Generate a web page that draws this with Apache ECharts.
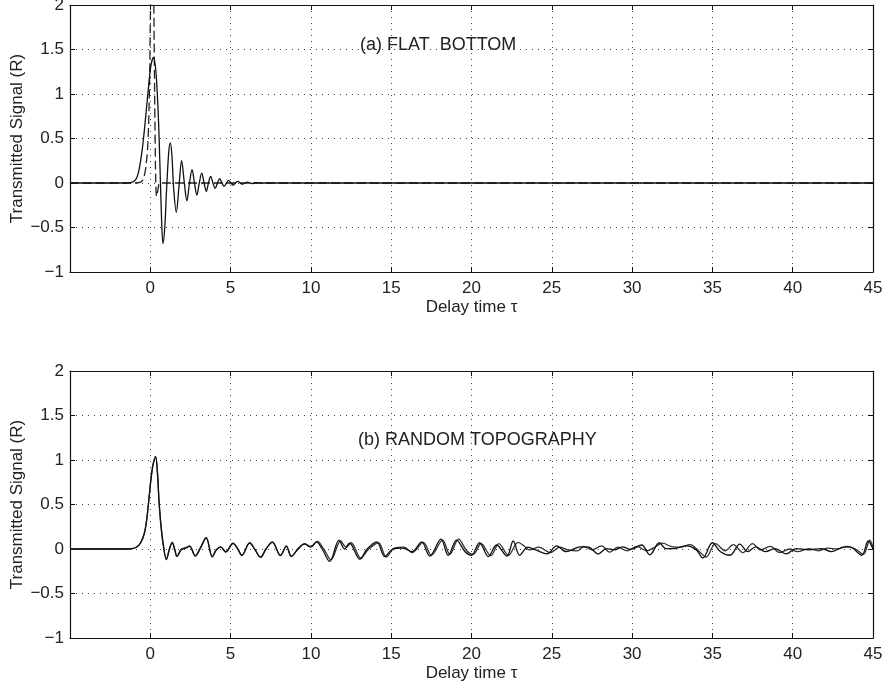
<!DOCTYPE html>
<html>
<head>
<meta charset="utf-8">
<script src="https://cdn.jsdelivr.net/npm/echarts@6/dist/echarts.min.js"></script>
<style>
  html, body { margin: 0; padding: 0; background: #fff; }
  #chart { width: 892px; height: 690px; }
</style>
</head>
<body>
<div id="chart"></div>
<script>
// x ticks and y ticks
const xTicks = [-5, 0, 5, 10, 15, 20, 25, 30, 35, 40, 45]
const yTicks = [-1, -0.5, 0, 0.5, 1, 1.5, 2]

// (a) flat bottom: solid and dashed traces, [delay, signal]
const flatSolid = [
  [-5, 0], [-1.5, 0], [-1.2, 0.005], [-0.9, 0.04], [-0.7, 0.15], [-0.5, 0.38], [-0.3, 0.72],
  [-0.1, 1.1], [0.05, 1.33], [0.2, 1.41], [0.35, 1.25], [0.5, 0.75], [0.6, 0.2], [0.7, -0.4],
  [0.79, -0.68], [0.9, -0.5], [1.02, -0.05], [1.15, 0.35], [1.25, 0.45], [1.35, 0.3], [1.45, -0.05],
  [1.62, -0.33], [1.78, -0.05], [1.95, 0.25], [2.12, 0], [2.28, -0.2], [2.44, 0], [2.6, 0.15],
  [2.75, 0], [2.9, -0.135], [3.05, 0], [3.2, 0.11], [3.35, 0], [3.49, -0.095], [3.62, 0],
  [3.76, 0.075], [3.9, 0], [4.04, -0.06], [4.18, 0], [4.32, 0.048], [4.46, 0], [4.6, -0.038],
  [4.74, 0], [4.88, 0.03], [5.02, 0], [5.16, -0.024], [5.3, 0], [5.45, 0.018], [5.6, 0],
  [5.75, -0.013], [5.9, 0], [6.05, 0.009], [6.2, 0], [6.35, -0.006], [6.5, 0], [6.7, 0.003],
  [7, 0], [45, 0]
]
const flatDashed = [
  [-5, 0], [-1, 0], [-0.6, 0.01], [-0.45, 0.04], [-0.3, 0.15], [-0.15, 0.45], [-0.05, 1.1],
  [0.0, 1.8], [0.05, 2.3], [0.12, 2.5], [0.2, 2.2], [0.25, 1.4], [0.3, 0.5], [0.35, -0.05],
  [0.4, -0.15], [0.5, -0.05], [0.6, 0], [45, 0]
]

// (b) random topography: two nearly overlapping traces
const randA = [
  [-5, 0], [-2, 0], [-1.2, 0.003], [-0.87, 0.02], [-0.6, 0.07], [-0.36, 0.18], [-0.2, 0.36],
  [-0.09, 0.55], [0.12, 0.89], [0.33, 1.04], [0.45, 0.85], [0.54, 0.55], [0.65, 0.3], [0.79, 0.08],
  [1.0, -0.12], [1.2, 0.0], [1.37, 0.075], [1.52, 0.0], [1.66, -0.085], [1.93, -0.01], [2.2, 0.01],
  [2.45, 0.03], [2.8, -0.08], [3.1, 0.0], [3.48, 0.13], [3.86, -0.085], [4.1, -0.01], [4.38, 0.025],
  [4.7, -0.03], [5.15, 0.065], [5.45, 0], [5.7, -0.07], [6.19, 0.07], [6.5, 0.0], [6.87, -0.09],
  [7.2, 0], [7.6, 0.08], [8.1, -0.07], [8.47, 0.03], [8.78, -0.085], [9.2, 0.0], [9.6, 0.055],
  [10.0, 0.02], [10.34, 0.08], [10.7, 0.0], [11.17, -0.14], [11.75, 0.1], [12.1, 0.0], [12.4, 0.065],
  [13.05, -0.115], [13.5, 0.0], [14.1, 0.08], [14.6, -0.085], [15.1, 0.0], [15.7, 0.01], [16.3, -0.03],
  [16.9, 0.08], [17.4, -0.08], [18.1, 0.11], [18.55, -0.07], [19.07, 0.1], [19.6, -0.03], [20.0, -0.07],
  [20.5, 0.07], [21.05, -0.085], [21.56, 0.045], [22.2, -0.08], [22.6, 0.09], [23.0, -0.07], [23.5, 0.02],
  [24.0, -0.01], [24.7, -0.055], [25.3, 0.035], [25.9, -0.03], [26.5, 0.01], [26.75, 0.025], [27.3, 0.02],
  [27.9, -0.055], [28.4, 0.005], [28.9, -0.01], [29.4, 0.025], [29.9, -0.005], [30.6, 0.045], [31.1, -0.065],
  [31.7, 0.07], [32.1, 0.005], [32.6, 0.005], [33.4, 0.035], [34.0, -0.01], [34.4, -0.1], [35.0, 0.07],
  [35.5, -0.03], [36.1, -0.07], [36.7, 0.055], [37.2, -0.03], [37.7, 0.025], [38.3, -0.03], [38.9, 0.005],
  [39.6, -0.055], [40.2, 0.005], [41.0, -0.01], [41.8, 0.005], [42.4, -0.03], [43.2, 0.025], [43.6, 0.02],
  [44.3, -0.07], [44.7, 0.09], [45, 0.0]
]
const randB = [
  [-5, 0], [-2, 0], [-1.2, 0.003], [-0.87, 0.02], [-0.6, 0.07], [-0.36, 0.19], [-0.2, 0.37],
  [-0.09, 0.56], [0.12, 0.9], [0.33, 1.03], [0.45, 0.84], [0.54, 0.54], [0.65, 0.28], [0.79, 0.06],
  [1.0, -0.11], [1.2, 0.01], [1.37, 0.07], [1.52, -0.01], [1.66, -0.08], [1.93, 0.0], [2.2, 0.015],
  [2.45, 0.035], [2.8, -0.075], [3.1, 0.01], [3.48, 0.12], [3.86, -0.09], [4.1, -0.015], [4.38, 0.02],
  [4.7, -0.035], [5.15, 0.06], [5.45, 0.0], [5.7, -0.075], [6.19, 0.065], [6.5, -0.005], [6.87, -0.095],
  [7.2, 0.0], [7.6, 0.075], [8.1, -0.075], [8.47, 0.035], [8.78, -0.08], [9.2, 0.005], [9.6, 0.06],
  [10.0, 0.03], [10.4, 0.085], [10.8, 0.0], [11.25, -0.12], [11.85, 0.09], [12.2, 0.02], [12.5, 0.07],
  [13.1, -0.1], [13.6, 0.0], [14.2, 0.07], [14.7, -0.09], [15.2, 0.01], [15.8, 0.02], [16.3, -0.04],
  [17.0, 0.075], [17.5, -0.07], [18.2, 0.1], [18.65, -0.06], [19.2, 0.11], [19.7, -0.02], [20.1, -0.06],
  [20.6, 0.06], [21.2, -0.075], [21.7, 0.06], [22.3, -0.07], [22.9, 0.075], [23.3, 0.03], [23.6, -0.01],
  [24.2, 0.02], [24.9, -0.04], [25.5, 0.02], [26.0, -0.01], [26.6, -0.02], [27.0, 0.03], [27.5, -0.01],
  [28.1, 0.035], [28.6, -0.035], [29.1, 0.02], [29.7, -0.02], [30.3, 0.03], [30.9, -0.02], [31.4, 0.02],
  [31.9, 0.065], [32.4, 0.03], [33.0, 0.02], [33.6, 0.05], [34.2, -0.03], [34.6, -0.09], [35.2, 0.06],
  [35.8, -0.02], [36.3, 0.05], [36.9, -0.04], [37.5, 0.06], [38.0, -0.01], [38.6, 0.03], [39.2, -0.04],
  [39.8, 0.0], [40.3, -0.03], [41.0, 0.005], [41.6, -0.02], [42.2, 0.01], [42.8, 0.0], [43.4, 0.03],
  [43.9, 0.0], [44.4, -0.06], [44.8, 0.1], [45, 0.02]
]

const FONT = 'Liberation Sans'
const xMin = xTicks[0], xMax = xTicks[xTicks.length - 1]
const yMin = yTicks[0], yMax = yTicks[yTicks.length - 1]
const fmtNum = (v) => String(v).replace('-', '\u2212')

function xAxisPair(gridIndex) {
  const base = {
    type: 'value', gridIndex, min: xMin, max: xMax, interval: 5,
    axisLine: { onZero: false, lineStyle: { color: '#111', width: 1.2 } },
    axisTick: { inside: true, length: 5, lineStyle: { color: '#111' } },
  }
  return [
    {
      ...base, position: 'bottom',
      name: 'Delay time \u03c4', nameLocation: 'middle', nameGap: 27, nameMoveOverlap: false,
      nameTextStyle: { fontFamily: FONT, fontSize: 17, color: '#222' },
      axisLabel: {
        fontFamily: FONT, fontSize: 17, color: '#222', margin: 8,
        formatter: (v) => (v === xMin ? '' : fmtNum(v)),
      },
      splitLine: { show: true, lineStyle: { color: '#444', type: [1, 5], width: 1 } },
    },
    { ...base, position: 'top', axisLabel: { show: false }, splitLine: { show: false } },
  ]
}

function yAxisPair(gridIndex) {
  const base = {
    type: 'value', gridIndex, min: yMin, max: yMax, interval: 0.5,
    axisLine: { show: true, onZero: false, lineStyle: { color: '#111', width: 1.2 } },
    axisTick: { show: true, inside: true, length: 5, lineStyle: { color: '#111' } },
  }
  return [
    {
      ...base, position: 'left',
      name: 'Transmitted Signal (R)', nameLocation: 'middle', nameGap: 44, nameMoveOverlap: false,
      nameTextStyle: { fontFamily: FONT, fontSize: 17, color: '#222' },
      axisLabel: { fontFamily: FONT, fontSize: 17, color: '#222', margin: 6, formatter: fmtNum },
      splitLine: { show: true, lineStyle: { color: '#444', type: [1, 5], width: 1 } },
    },
    { ...base, position: 'right', axisLabel: { show: false }, splitLine: { show: false } },
  ]
}

function trace(data, xi, yi, dashed, color) {
  return {
    type: 'line', xAxisIndex: xi, yAxisIndex: yi, data,
    showSymbol: false, smooth: 0.35, clip: true, animation: false,
    lineStyle: { color: color || '#111', width: 1.3, type: dashed ? [9, 4] : 'solid' },
  }
}

const chart = echarts.init(document.getElementById('chart'))
chart.setOption({
  backgroundColor: '#fff',
  animation: false,
  grid: [
    { left: 70, top: 5, width: 803, height: 267, outerBoundsMode: 'none', containLabel: false },
    { left: 70, top: 371, width: 803, height: 267, outerBoundsMode: 'none', containLabel: false },
  ],
  xAxis: [...xAxisPair(0), ...xAxisPair(1)],
  yAxis: [...yAxisPair(0), ...yAxisPair(1)],
  graphic: [
    {
      type: 'text', left: 360, top: 36,
      style: { text: '(a) FLAT  BOTTOM', font: `18px "${FONT}"`, fill: '#222' },
    },
    {
      type: 'text', left: 358, top: 431,
      style: { text: '(b) RANDOM TOPOGRAPHY', font: `18px "${FONT}"`, fill: '#222' },
    },
  ],
  series: [
    trace(flatDashed, 0, 0, true, '#222'),
    trace(flatSolid, 0, 0, false),
    trace(randB, 2, 2, false, '#333'),
    trace(randA, 2, 2, false),
  ],
})
</script>
</body>
</html>
